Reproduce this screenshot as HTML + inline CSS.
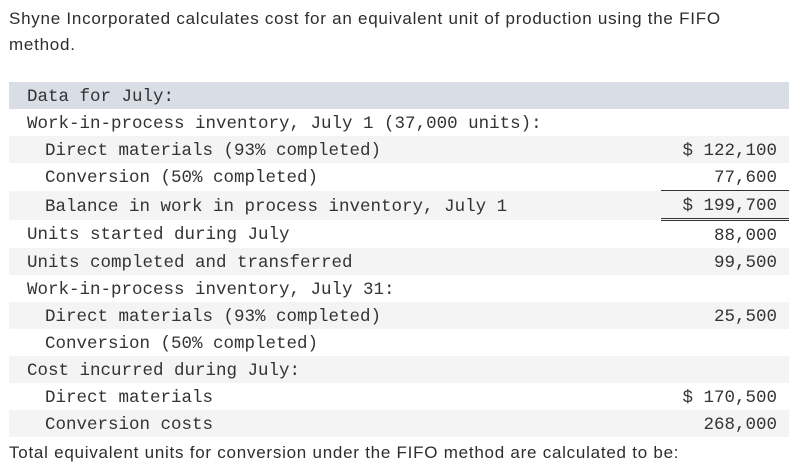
<!DOCTYPE html>
<html><head><meta charset="utf-8"><style>
body{margin:0;width:808px;height:469px;background:#fff;font-family:"Liberation Sans",sans-serif;color:#2d2d2d;position:relative;overflow:hidden}
.p{position:absolute;left:9px;font-size:17px;letter-spacing:0.75px;line-height:26px}
table{position:absolute;left:9px;top:82px;width:780px;border-collapse:collapse;font-family:"Liberation Mono",monospace;font-size:17.5px;color:#333}
td{height:25.8px;padding:3px 0 0 0;box-sizing:border-box;white-space:pre;line-height:24px}
td.v{text-align:right;padding-right:12px;width:128px}
tr.h td{background:#d9dde6}
tr.g td{background:#f4f4f4}
.l0{padding-left:18px}.l1{padding-left:36px}
.u{border-bottom:1.5px solid #333}
.dd{border-bottom:3.5px double #333}
</style></head><body>
<div class="p" style="top:6px">Shyne Incorporated calculates cost for an equivalent unit of production using the FIFO<br>method.</div>
<table>
<tr class="h"><td class="l0">Data for July:</td><td class="v"></td></tr>
<tr><td class="l0">Work-in-process inventory, July 1 (37,000 units):</td><td class="v"></td></tr>
<tr class="g"><td class="l1">Direct materials (93% completed)</td><td class="v">$ 122,100</td></tr>
<tr><td class="l1">Conversion (50% completed)</td><td class="v u">77,600</td></tr>
<tr class="g"><td class="l1">Balance in work in process inventory, July 1</td><td class="v dd">$ 199,700</td></tr>
<tr><td class="l0">Units started during July</td><td class="v">88,000</td></tr>
<tr class="g"><td class="l0">Units completed and transferred</td><td class="v">99,500</td></tr>
<tr><td class="l0">Work-in-process inventory, July 31:</td><td class="v"></td></tr>
<tr class="g"><td class="l1">Direct materials (93% completed)</td><td class="v">25,500</td></tr>
<tr><td class="l1">Conversion (50% completed)</td><td class="v"></td></tr>
<tr class="g"><td class="l0">Cost incurred during July:</td><td class="v"></td></tr>
<tr><td class="l1">Direct materials</td><td class="v">$ 170,500</td></tr>
<tr class="g"><td class="l1">Conversion costs</td><td class="v">268,000</td></tr>
</table>
<div class="p" style="top:440px">Total equivalent units for conversion under the FIFO method are calculated to be:</div>
</body></html>
